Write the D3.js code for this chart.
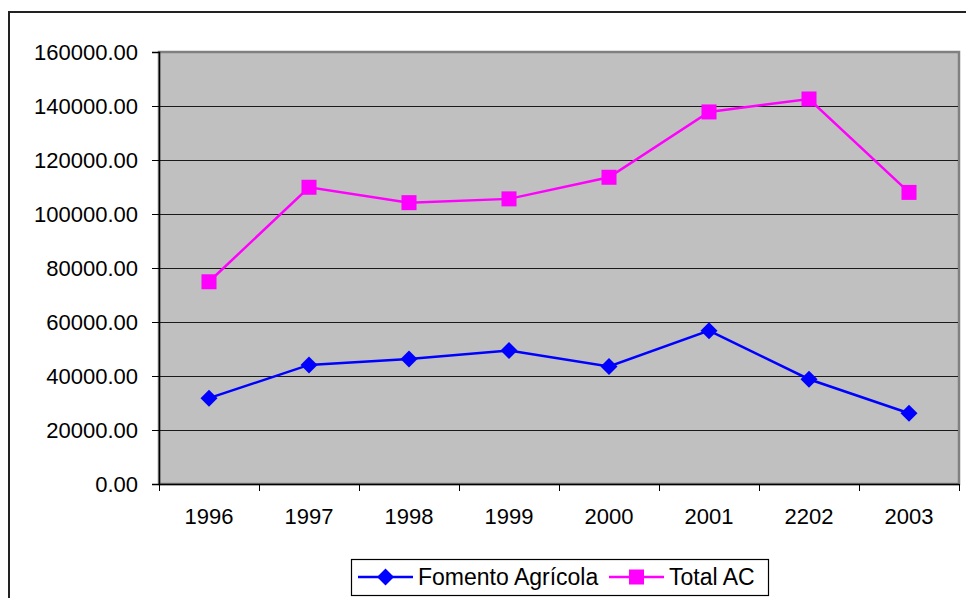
<!DOCTYPE html>
<html>
<head>
<meta charset="utf-8">
<script src="https://cdn.jsdelivr.net/npm/d3@7"></script>
<style>
  body { margin: 0; background: #fff; }
  svg text { font-family: "Liberation Sans", Arial, sans-serif; fill: #000; }
</style>
</head>
<body>
<div class="container"></div>
<script>
var years = ['1996', '1997', '1998', '1999', '2000', '2001', '2202', '2003'];
var fomento = [31800, 44100, 46300, 49400, 43500, 56800, 38800, 26200];
var totalAC = [74900, 109900, 104200, 105600, 113600, 137800, 142600, 108000];
var yTicks = [0, 20000, 40000, 60000, 80000, 100000, 120000, 140000, 160000];

var seriesList = [
  { name: 'Fomento Agrícola', values: fomento, color: '#0000ff', marker: 'diamond' },
  { name: 'Total AC', values: totalAC, color: '#ff00ff', marker: 'square' }
];

var width = 966, height = 598;
var plot = { left: 159, right: 959, top: 52, bottom: 484 };

var svg = d3.select('.container')
  .append('svg')
    .attr('width', width)
    .attr('height', height);

// chart area border (cut by the window on the right and bottom)
svg.append('rect')
  .attr('x', 9).attr('y', 12)
  .attr('width', 980).attr('height', 620)
  .attr('fill', '#fff')
  .attr('stroke', '#222')
  .attr('stroke-width', 2);

var x = d3.scaleBand().domain(years).range([plot.left, plot.right]);
var y = d3.scaleLinear().domain([0, 160000]).range([plot.bottom, plot.top]);

// plot area
svg.append('rect')
  .attr('x', plot.left).attr('y', plot.top)
  .attr('width', plot.right - plot.left).attr('height', plot.bottom - plot.top)
  .attr('fill', '#c0c0c0')
  .attr('stroke', '#808080')
  .attr('stroke-width', 2.5);

// gridlines
svg.append('g')
    .attr('stroke', '#1a1a1a')
    .attr('stroke-width', 1)
  .selectAll('line')
  .data(yTicks.filter(function(d) { return d > 0 && d < 160000; }))
  .enter().append('line')
    .attr('x1', plot.left).attr('x2', plot.right - 1)
    .attr('y1', function(d) { return Math.round(y(d)) + 0.5; })
    .attr('y2', function(d) { return Math.round(y(d)) + 0.5; });

// y axis
var yAxis = svg.append('g')
  .attr('transform', 'translate(' + plot.left + ',0)')
  .call(d3.axisLeft(y).tickValues(yTicks).tickFormat(d3.format('.2f')).tickSize(7).tickPadding(14));
yAxis.select('.domain').attr('stroke', '#000').attr('stroke-width', 1.5);
yAxis.selectAll('.tick line').attr('stroke', '#000');
yAxis.selectAll('.tick text')
  .style('font-size', '22px')
  .attr('fill', '#000')
  .attr('font-family', '"Liberation Sans", Arial, sans-serif');

// x axis
var xAxis = svg.append('g')
  .attr('transform', 'translate(0,' + plot.bottom + ')')
  .call(d3.axisBottom(x).tickSize(0).tickPadding(24));
xAxis.select('.domain').attr('stroke', '#000').attr('stroke-width', 1.5);
xAxis.selectAll('.tick text')
  .style('font-size', '22px')
  .attr('fill', '#000')
  .attr('font-family', '"Liberation Sans", Arial, sans-serif');

// x tick marks sit between categories
svg.append('g')
    .attr('stroke', '#000')
  .selectAll('line')
  .data(years.concat(['end']))
  .enter().append('line')
    .attr('x1', function(d, i) { return plot.left + i * x.bandwidth() + 0.5; })
    .attr('x2', function(d, i) { return plot.left + i * x.bandwidth() + 0.5; })
    .attr('y1', plot.bottom)
    .attr('y2', plot.bottom + 7);

function markerPath(type) {
  if (type === 'diamond') return 'M0,-8.5L8.5,0L0,8.5L-8.5,0Z';
  return d3.symbol().type(d3.symbolSquare).size(15 * 15)();
}

var line = d3.line()
  .x(function(d, i) { return x(years[i]) + x.bandwidth() / 2; })
  .y(function(d) { return y(d); });

seriesList.forEach(function(s) {
  svg.append('path')
    .attr('d', line(s.values))
    .attr('fill', 'none')
    .attr('stroke', s.color)
    .attr('stroke-width', 2.5);

  svg.append('g').selectAll('path')
    .data(s.values)
    .enter().append('path')
      .attr('d', markerPath(s.marker))
      .attr('transform', function(d, i) {
        return 'translate(' + (x(years[i]) + x.bandwidth() / 2) + ',' + y(d) + ')';
      })
      .attr('fill', s.color);
});

// ----------
// Legend
var legend = svg.append('g');
legend.append('rect')
  .attr('x', 351.5).attr('y', 559.5)
  .attr('width', 417).attr('height', 36)
  .attr('fill', '#fff')
  .attr('stroke', '#000')
  .attr('stroke-width', 1.2);

var legendPos = [358, 609];
seriesList.forEach(function(s, i) {
  var lx = legendPos[i], ly = 577;
  legend.append('line')
    .attr('x1', lx).attr('x2', lx + 55)
    .attr('y1', ly).attr('y2', ly)
    .attr('stroke', s.color)
    .attr('stroke-width', 2.5);
  legend.append('path')
    .attr('d', markerPath(s.marker))
    .attr('transform', 'translate(' + (lx + 27.5) + ',' + ly + ')')
    .attr('fill', s.color);
  legend.append('text')
    .attr('x', lx + 60)
    .attr('y', ly + 8)
    .style('font-size', '23px')
    .text(s.name);
});
</script>
</body>
</html>
